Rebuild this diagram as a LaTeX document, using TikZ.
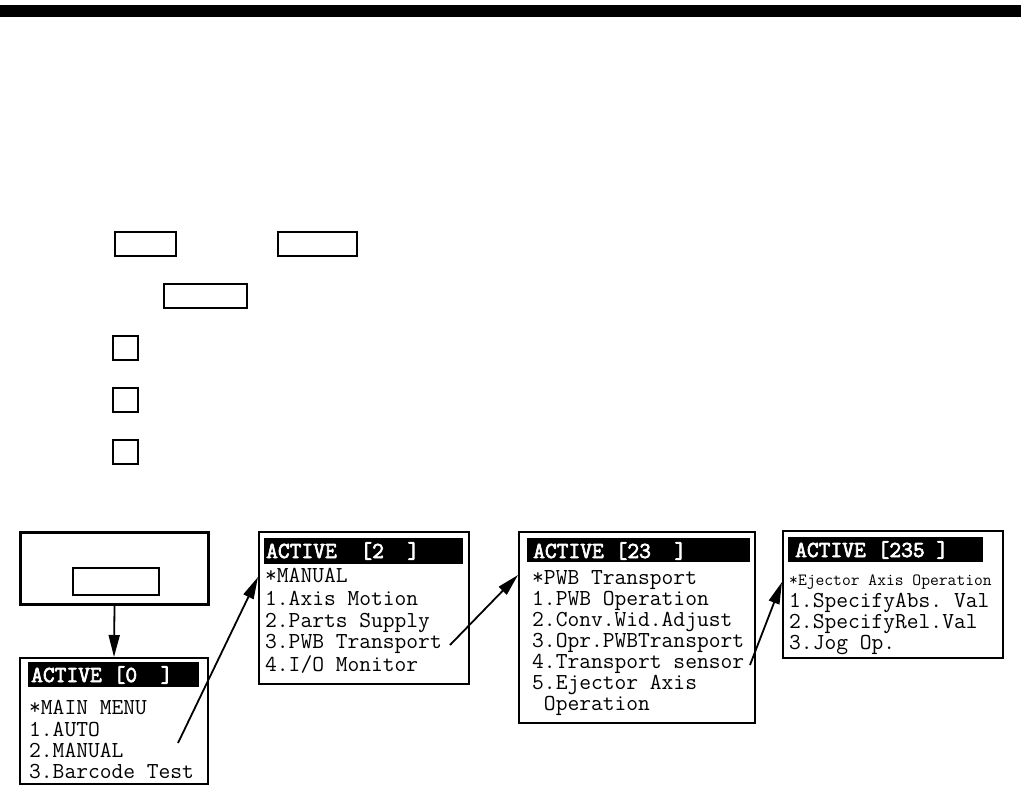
\documentclass[tikz,border=0pt]{standalone}
\usepackage{fontspec}
\newfontfamily\lcd{Latin Modern Mono}
\newfontfamily\lcdb{Latin Modern Mono}[FakeBold=3]
\usetikzlibrary{arrows.meta}
\begin{document}
\begin{tikzpicture}[x=1pt,y=-1pt,
  box/.style={draw,line width=2pt,anchor=north west,inner sep=0pt},
  keybox/.style={draw,line width=1.5pt,anchor=north west,inner sep=0pt},
  bar/.style={fill=black,anchor=north west,inner sep=0pt},
  ln/.style={anchor=base west,inner sep=0pt,text height=14pt,text depth=3pt,font=\lcd\fontsize{22.86}{24}\selectfont},
  sm/.style={anchor=base west,inner sep=0pt,text height=11pt,text depth=3pt,font=\lcd\fontsize{17.1}{19}\selectfont},
  hd/.style={anchor=base west,inner sep=0pt,text height=14pt,text depth=3pt,text=white,font=\lcdb\fontsize{22.86}{24}\selectfont},
  arr/.style={line width=1.8pt,-{Triangle[length=22pt,width=11pt]}}]
\useasboundingbox (0,0) rectangle (1021,785);
% top bar
\node[bar,minimum width=1021pt,minimum height=12pt] (topbar) at (0,5) {};
% key boxes
\node[keybox,minimum width=61pt,minimum height=24pt] (k1) at (114,231) {};
\node[keybox,minimum width=79pt,minimum height=24pt] (k2) at (277,231) {};
\node[keybox,minimum width=83pt,minimum height=24pt] (k3) at (163,283) {};
\node[keybox,minimum width=25pt,minimum height=24pt] (s1) at (112,335) {};
\node[keybox,minimum width=25pt,minimum height=24pt] (s2) at (112,387) {};
\node[keybox,minimum width=25pt,minimum height=24pt] (s3) at (112,439) {};
% screen boxes
\node[box,line width=3pt,minimum width=188pt,minimum height=72pt] (B0) at (19,531) {};
\node[keybox,minimum width=86pt,minimum height=27pt] (k0) at (72,567) {};
\node[box,minimum width=188pt,minimum height=126pt] (B1) at (19,657) {};
\node[box,minimum width=210pt,minimum height=152pt] (B2) at (258,531) {};
\node[box,minimum width=236pt,minimum height=191pt] (B3) at (518,531) {};
\node[box,minimum width=220pt,minimum height=127pt] (B4) at (782,530) {};
% header bars
\node[bar,minimum width=171pt,minimum height=25pt] (h1) at (28,662) {};
\node[bar,minimum width=199pt,minimum height=26pt] (h2) at (264,538) {};
\node[bar,minimum width=223pt,minimum height=24pt] (h3) at (527,538) {};
\node[bar,minimum width=195pt,minimum height=25pt] (h4) at (788,537) {};
% header texts
\node[hd] (t1h) at (31,682) {ACTIVE~[0~~]};
\node[hd] (t2h) at (266,558) {ACTIVE~~[2~~]};
\node[hd] (t3h) at (533,558) {ACTIVE~[23~~]};
\node[hd] (t4h) at (795,557) {ACTIVE~[235~]};
% box 1
\node[ln] (t11) at (29,714) {*MAIN~MENU};
\node[ln] (t12) at (29,736) {1.AUTO};
\node[ln] (t13) at (29,757) {2.MANUAL};
\node[ln] (t14) at (29,778) {3.Barcode~Test};
% box 2
\node[ln] (t21) at (265,582) {*MANUAL};
\node[ln] (t22) at (265,605) {1.Axis~Motion};
\node[ln] (t23) at (265,627) {2.Parts~Supply};
\node[ln] (t24) at (265,648) {3.PWB~Transport};
\node[ln] (t25) at (265,671) {4.I/O~Monitor};
% box 3
\node[ln] (t31) at (532,584) {*PWB~Transport};
\node[ln] (t32) at (532,605) {1.PWB~Operation};
\node[ln] (t33) at (532,626) {2.Conv.Wid.Adjust};
\node[ln] (t34) at (532,647) {3.Opr.PWBTransport};
\node[ln] (t35) at (532,668) {4.Transport~sensor};
\node[ln] (t36) at (532,689) {5.Ejector~Axis};
\node[ln] (t37) at (532,710) {~Operation};
% box 4
\node[sm] (t41) at (789,585) {*Ejector~Axis~Operation};
\node[ln] (t42) at (789,607) {1.SpecifyAbs.~Val};
\node[ln] (t43) at (789,628) {2.SpecifyRel.Val};
\node[ln] (t44) at (789,649) {3.Jog~Op.};
% connectors
\draw[arr] (B0.south) -- (B1.north);
\coordinate (a1) at (178,743);
\coordinate (a2) at (450,645);
\coordinate (a3) at (750,665);
\draw[arr] (a1) -- ([yshift=-46pt]B2.north west);
\draw[arr] (a2) -- ([yshift=-44pt]B3.north west);
\draw[arr] (a3) -- ([yshift=-52pt]B4.north west);
\end{tikzpicture}
\end{document}
